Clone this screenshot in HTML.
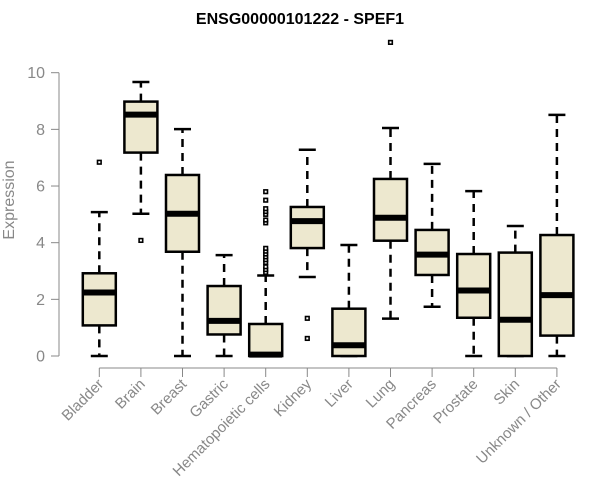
<!DOCTYPE html>
<html><head><meta charset="utf-8"><style>body{margin:0;background:#fff}svg{display:block}</style></head>
<body>
<svg id="chart" width="600" height="500" xmlns="http://www.w3.org/2000/svg" font-family="'Liberation Sans', sans-serif">
<text x="300" y="24" text-anchor="middle" font-weight="bold" font-size="16">ENSG00000101222 - SPEF1</text>
<text transform="translate(14,200) rotate(-90)" text-anchor="middle" font-size="16" fill="#888">Expression</text>
<g id="axes"></g><g id="boxes"></g>
</svg>
<script>
const categories=["Bladder","Brain","Breast","Gastric","Hematopoietic cells","Kidney","Liver","Lung","Pancreas","Prostate","Skin","Unknown / Other"];
const whiskerLow=[0,5.02,0,0,0,2.79,0,1.32,1.74,0,0,0];
const q1=[1.08,7.18,3.68,0.76,0,3.81,0,4.07,2.86,1.35,0,0.72];
const medians=[2.24,8.52,5.02,1.24,0.05,4.76,0.38,4.88,3.58,2.31,1.28,2.15];
const q3=[2.92,8.98,6.39,2.47,1.13,5.26,1.67,6.25,4.45,3.6,3.65,4.27];
const whiskerHigh=[5.08,9.67,8.01,3.56,2.84,7.28,3.92,8.05,6.78,5.82,4.59,8.51];
const outliers=[[6.84],[4.08],[],[],[2.95,3.05,3.15,3.3,3.4,3.5,3.6,3.7,3.8,4.7,4.8,5.0,5.1,5.2,5.5,5.8],[1.33,0.62],[],[11.07],[],[],[],[]];
const yTicks=[0,2,4,6,8,10];
const NS="http://www.w3.org/2000/svg";
const y=v=>356-v*28.33;
const x=i=>99.3+i*41.6;
function mk(parent,tag,attrs){const e=document.createElementNS(NS,tag);for(const k in attrs)e.setAttribute(k,attrs[k]);parent.appendChild(e);return e;}
const axes=document.getElementById('axes'),boxes=document.getElementById('boxes');
let yl=mk(axes,'line',{x1:59,x2:59,y1:y(0),y2:y(10),stroke:'#888'});


yTicks.forEach(t=>{
  let l=mk(axes,'line',{x1:51,x2:59,y1:y(t),y2:y(t),stroke:'#888'});
  
  
  let tx=mk(axes,'text',{x:45,y:y(t)+5.5,'text-anchor':'end','font-size':16,fill:'#888'});
  tx.textContent=t;
  
  
});
let xl=mk(axes,'line',{x1:x(0),x2:x(categories.length-1),y1:368,y2:368,stroke:'#888'});


categories.forEach((c,i)=>{
  const cx=x(i),w=16.5;
  let t=mk(axes,'line',{x1:cx,x2:cx,y1:368,y2:377,stroke:'#888'});
  
  
  let lb=mk(axes,'text',{transform:`translate(${cx+5},385) rotate(-45)`,'text-anchor':'end','font-size':15,fill:'#888'});
  lb.textContent=c;
  
  
  const g=mk(boxes,'g',{});
  
  
  mk(g,'line',{x1:cx,x2:cx,y1:y(q3[i]),y2:y(whiskerHigh[i]),stroke:'#000','stroke-width':2.5,'stroke-dasharray':'8,6'});
  mk(g,'line',{x1:cx,x2:cx,y1:y(q1[i]),y2:y(whiskerLow[i]),stroke:'#000','stroke-width':2.5,'stroke-dasharray':'8,6'});
  mk(g,'line',{x1:cx-8.5,x2:cx+8.5,y1:y(whiskerHigh[i]),y2:y(whiskerHigh[i]),stroke:'#000','stroke-width':2.5});
  mk(g,'line',{x1:cx-8.5,x2:cx+8.5,y1:y(whiskerLow[i]),y2:y(whiskerLow[i]),stroke:'#000','stroke-width':2.5});
  mk(g,'rect',{x:cx-w,y:y(q3[i]),width:2*w,height:Math.max(y(q1[i])-y(q3[i]),0.1),fill:'#ede8cf',stroke:'#000','stroke-width':2.5});
  mk(g,'line',{x1:cx-w,x2:cx+w,y1:y(medians[i]),y2:y(medians[i]),stroke:'#000','stroke-width':6});
  outliers[i].forEach(o=>{
    let p=mk(g,'rect',{x:cx-1.8,y:y(o)-1.8,width:3.6,height:3.6,fill:'#fff',stroke:'#000','stroke-width':1.6});
    
    
  });
});
</script>
</body></html>
